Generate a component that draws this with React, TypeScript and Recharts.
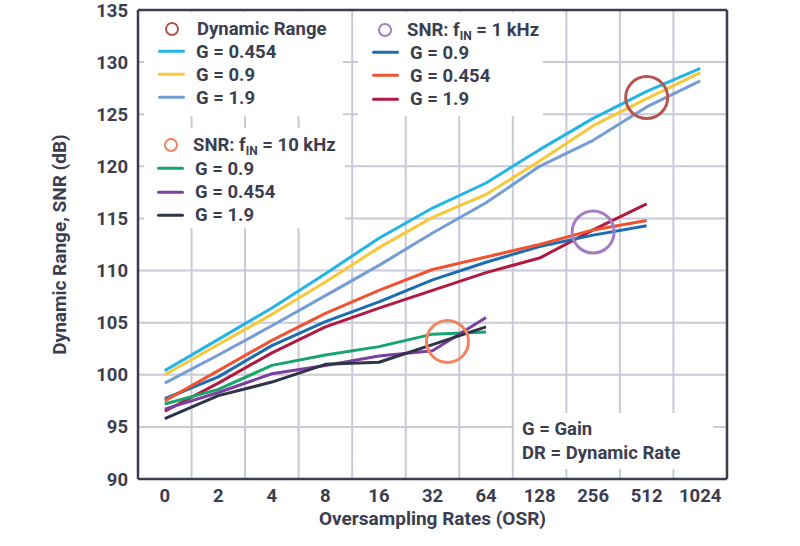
import React from 'react';
import { LineChart, Line, XAxis, YAxis, CartesianGrid, ReferenceDot, ReferenceLine } from 'recharts';

// x categories (oversampling rate) and y ticks
const osrLabels = ['0', '2', '4', '8', '16', '32', '64', '128', '256', '512', '1024'];
const yTicks = [90, 95, 100, 105, 110, 115, 120, 125, 130, 135];

// Dynamic range
const drG0454 = [100.4, 103.4, 106.4, 109.7, 113.1, 116.0, 118.4, 121.6, 124.6, 127.2, 129.4];
const drG09 = [100.0, 102.9, 105.8, 108.9, 112.2, 115.1, 117.3, 120.5, 123.9, 126.5, 129.0];
const drG19 = [99.2, 101.9, 104.7, 107.6, 110.5, 113.6, 116.5, 120.0, 122.5, 125.7, 128.2];

// SNR, fIN = 1 kHz (up to OSR 512)
const snr1kG09 = [97.7, 99.8, 102.8, 105.1, 107.0, 109.1, 110.8, 112.3, 113.4, 114.3];
const snr1kG0454 = [97.5, 100.4, 103.3, 105.9, 108.1, 110.1, 111.3, 112.5, 113.9, 114.8];
const snr1kG19 = [96.5, 99.2, 102.1, 104.6, 106.4, 108.1, 109.8, 111.2, 113.9, 116.4];

// SNR, fIN = 10 kHz (up to OSR 64)
const snr10kG09 = [97.2, 98.6, 100.9, 101.9, 102.7, 103.9, 104.1];
const snr10kG0454 = [96.7, 98.3, 100.1, 100.9, 101.8, 102.3, 105.5];
const snr10kG19 = [95.8, 98.0, 99.3, 101.0, 101.2, 102.9, 104.6];

// highlight rings: [category index, dB]
const drRing = [9, 126.6];
const snr1kRing = [8, 113.7];
const snr10kRing = [5.28, 103.2];

const C = {
  drG0454: '#22b5e6',
  drG09: '#f9c83a',
  drG19: '#739dd4',
  snr1kG09: '#1b6db3',
  snr1kG0454: '#f0532f',
  snr1kG19: '#b01a40',
  snr10kG09: '#14a66c',
  snr10kG0454: '#7b3f9e',
  snr10kG19: '#2f3347',
  ringDR: '#b5554f',
  ring1k: '#a57cc4',
  ring10k: '#f0845c',
};

const TEXT = '#3b3e50';
const GRID = '#c9cad7';
const FONT = 'Roboto, sans-serif';
const FS = 18.5;

const data = osrLabels.map((_, i) => ({
  idx: i,
  drG0454: drG0454[i] ?? null,
  drG09: drG09[i] ?? null,
  drG19: drG19[i] ?? null,
  snr1kG09: snr1kG09[i] ?? null,
  snr1kG0454: snr1kG0454[i] ?? null,
  snr1kG19: snr1kG19[i] ?? null,
  snr10kG09: snr10kG09[i] ?? null,
  snr10kG0454: snr10kG0454[i] ?? null,
  snr10kG19: snr10kG19[i] ?? null,
}));

const seriesOrder = [
  'drG19', 'drG09', 'drG0454',
  'snr1kG19', 'snr1kG09', 'snr1kG0454',
  'snr10kG09', 'snr10kG0454', 'snr10kG19',
];

function Ring({ x, y, color }: { x: number; y: number; color: string }) {
  return (
    <div
      style={{
        position: 'absolute', left: x - 7, top: y - 7, width: 14, height: 14,
        border: `2.5px solid ${color}`, borderRadius: '50%', boxSizing: 'border-box',
      }}
    />
  );
}

function Row({ x, y, color, label }: { x: number; y: number; color: string; label: string }) {
  return (
    <div style={{ position: 'absolute', left: x, top: y, transform: 'translateY(-50%)', display: 'flex', alignItems: 'center', lineHeight: 1 }}>
      <span style={{ display: 'inline-block', width: 27, height: 3, background: color, borderRadius: 2, marginRight: 11 }} />
      <span>{label}</span>
    </div>
  );
}

function Title({ x, y, children }: { x: number; y: number; children: React.ReactNode }) {
  return (
    <div style={{ position: 'absolute', left: x, top: y, transform: 'translateY(-50%)', lineHeight: 1, whiteSpace: 'nowrap' }}>
      {children}
    </div>
  );
}

const sub = { fontSize: 12, position: 'relative' as const, top: 4, verticalAlign: 'baseline' };
const box = { position: 'absolute' as const, background: '#fff' };

export default function App() {
  return (
    <div style={{ position: 'absolute', left: 0, top: 0, width: 800, height: 546, background: '#fff', fontFamily: FONT, color: TEXT, fontWeight: 700, fontSize: FS }}>
      <LineChart width={800} height={546} data={data} margin={{ top: 10, right: 73, left: 58, bottom: 37 }}>
        <CartesianGrid
          stroke={GRID}
          strokeWidth={2}
          verticalCoordinatesGenerator={({ offset }: any) =>
            osrLabels.slice(1).map((_, k) => offset.left + (offset.width * (k + 1)) / osrLabels.length)
          }
        />
        <XAxis
          type="number"
          dataKey="idx"
          domain={[-0.5, 10.5]}
          ticks={osrLabels.map((_, i) => i)}
          interval={0}
          tickFormatter={(v: number) => osrLabels[v]}
          tickLine={false}
          tickMargin={4}
          height={30}
          axisLine={{ stroke: TEXT, strokeWidth: 2.5 }}
          tick={{ fill: TEXT, fontSize: FS, fontWeight: 700, fontFamily: FONT }}
          label={{ value: 'Oversampling Rates (OSR)', position: 'bottom', offset: 3, fill: TEXT, fontSize: 19, fontWeight: 700, fontFamily: FONT }}
        />
        <YAxis
          domain={[90, 135]}
          ticks={yTicks}
          interval={0}
          width={80}
          tickLine={false}
          tickMargin={4}
          axisLine={{ stroke: TEXT, strokeWidth: 2.5 }}
          tick={{ fill: TEXT, fontSize: FS, fontWeight: 700, fontFamily: FONT }}
          label={{ value: 'Dynamic Range, SNR (dB)', angle: -90, position: 'insideLeft', offset: 1, fill: TEXT, fontSize: 19, fontWeight: 700, fontFamily: FONT, style: { textAnchor: 'middle' } }}
        />
        <ReferenceLine y={135} stroke={TEXT} strokeWidth={2.5} />
        <ReferenceLine x={10.5} stroke={TEXT} strokeWidth={2.5} />
        {seriesOrder.map((k) => (
          <Line
            key={k}
            type="linear"
            dataKey={k}
            stroke={(C as any)[k]}
            strokeWidth={3}
            strokeLinejoin="round"
            dot={false}
            isAnimationActive={false}
          />
        ))}
        <ReferenceDot x={drRing[0]} y={drRing[1]} r={21} fill="none" stroke={C.ringDR} strokeWidth={3} />
        <ReferenceDot x={snr1kRing[0]} y={snr1kRing[1]} r={21} fill="none" stroke={C.ring1k} strokeWidth={3} />
        <ReferenceDot x={snr10kRing[0]} y={snr10kRing[1]} r={21} fill="none" stroke={C.ring10k} strokeWidth={3} />
      </LineChart>

      {/* legend panels */}
      <div style={{ ...box, left: 144, top: 12, width: 199, height: 104 }} />
      <div style={{ ...box, left: 144, top: 128, width: 201, height: 100 }} />
      <div style={{ ...box, left: 358, top: 12, width: 185, height: 104 }} />
      <div style={{ ...box, left: 514, top: 413, width: 199, height: 56 }} />

      <Ring x={171.5} y={28.5} color={C.ringDR} />
      <Title x={197} y={28.5}>Dynamic Range</Title>
      <Row x={158} y={51.5} color={C.drG0454} label="G = 0.454" />
      <Row x={158} y={74.5} color={C.drG09} label="G = 0.9" />
      <Row x={158} y={97.5} color={C.drG19} label="G = 1.9" />

      <Ring x={171} y={144.5} color={C.ring10k} />
      <Title x={193} y={145}>SNR: f<span style={sub}>IN</span> = 10 kHz</Title>
      <Row x={157} y={168.5} color={C.snr10kG09} label="G = 0.9" />
      <Row x={157} y={192} color={C.snr10kG0454} label="G = 0.454" />
      <Row x={157} y={215} color={C.snr10kG19} label="G = 1.9" />

      <Ring x={385} y={30} color={C.ring1k} />
      <Title x={407} y={30}>SNR: f<span style={sub}>IN</span> = 1 kHz</Title>
      <Row x={372} y={52.5} color={C.snr1kG09} label="G = 0.9" />
      <Row x={372} y={75.5} color={C.snr1kG0454} label="G = 0.454" />
      <Row x={372} y={99} color={C.snr1kG19} label="G = 1.9" />

      <Title x={522} y={429}>G = Gain</Title>
      <Title x={522} y={452.5}>DR = Dynamic Rate</Title>
    </div>
  );
}
